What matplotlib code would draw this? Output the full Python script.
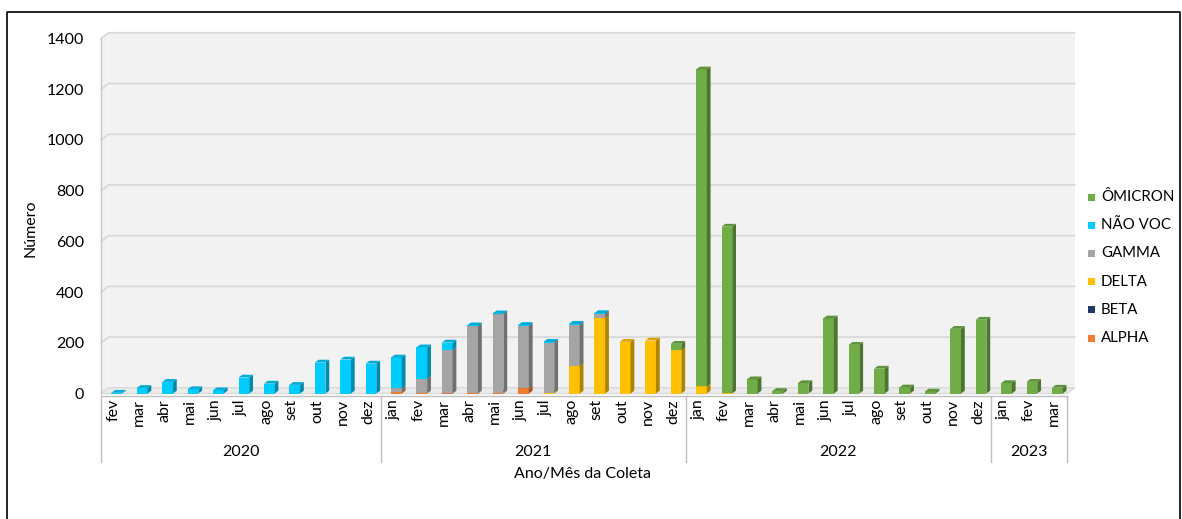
import matplotlib
matplotlib.use("Agg")
import matplotlib.pyplot as plt
from matplotlib.patches import Polygon, Rectangle
from matplotlib.lines import Line2D
import numpy as np

plt.rcParams['font.family'] = ['Lato', 'DejaVu Sans']

# categories: year groups and months
years = ['2020', '2021', '2022', '2023']
months_2020 = ['fev', 'mar', 'abr', 'mai', 'jun', 'jul', 'ago', 'set', 'out', 'nov', 'dez']
months_2021 = ['jan', 'fev', 'mar', 'abr', 'mai', 'jun', 'jul', 'ago', 'set', 'out', 'nov', 'dez']
months_2022 = ['jan', 'fev', 'mar', 'abr', 'mai', 'jun', 'jul', 'ago', 'set', 'out', 'nov', 'dez']
months_2023 = ['jan', 'fev', 'mar']
month_groups = [months_2020, months_2021, months_2022, months_2023]
months = months_2020 + months_2021 + months_2022 + months_2023

# series values, stacked bottom -> top
alpha = [0]*11 + [6, 3, 1, 1, 3, 20, 0, 0, 0, 0, 0, 0] + [0]*12 + [0]*3
beta = [0]*38
delta = [0]*11 + [0, 0, 0, 0, 0, 0, 3, 108, 298, 204, 209, 171] + [28, 1] + [0]*10 + [0]*3
gamma = [0]*11 + [15, 56, 172, 264, 309, 246, 198, 163, 16, 0, 0, 0] + [0]*12 + [0]*3
nao_voc = [3, 22, 46, 17, 13, 63, 39, 34, 122, 134, 118] + [121, 123, 28, 4, 4, 4, 3, 4, 3, 0, 0, 0] + [0]*12 + [0]*3
omicron = [0]*11 + [0]*11 + [25] + [1250, 657, 56, 10, 41, 296, 192, 98, 24, 8, 255, 291] + [41, 46, 23]

series = [('ALPHA', alpha, '#ED7D31'), ('BETA', beta, '#203864'), ('DELTA', delta, '#FFC000'),
          ('GAMMA', gamma, '#A5A5A5'), ('NÃO VOC', nao_voc, '#00CCFF'), ('ÔMICRON', omicron, '#70AD47')]

W, H = 1182, 519
fs = 11.5
fig = plt.figure(figsize=(W/100, H/100), dpi=100)
ax = fig.add_axes([101/W, (H-393.5)/H, 966/W, 355/H])
ax.set_xlim(-0.5, 37.5)
ax.set_ylim(0, 1400)
for s in ax.spines.values():
    s.set_visible(False)

ppx = 966/38.0      # px per category
ppy = 355/1400.0    # px per unit
dxw, dyw = 7.6/ppx, 5.7/ppy   # wall depth
dxb, dyb = 3.8/ppx, 2.8/ppy   # bar depth
n = len(months)

# back wall, floor, side wall
ax.add_patch(Polygon([(-0.5+dxw, dyw), (37.5+dxw, dyw), (37.5+dxw, 1400+dyw), (-0.5+dxw, 1400+dyw)],
                     closed=True, fc='#f2f2f2', ec='none', clip_on=False, zorder=0))
ax.add_patch(Polygon([(-0.5, 0), (-0.5+dxw, dyw), (-0.5+dxw, 1400+dyw), (-0.5, 1400)],
                     closed=True, fc='#f2f2f2', ec='none', clip_on=False, zorder=0))
ax.add_patch(Polygon([(-0.5, 0), (37.5, 0), (37.5+dxw, dyw), (-0.5+dxw, dyw)],
                     closed=True, fc='#ebebeb', ec='#d9d9d9', lw=1, clip_on=False, zorder=0.5))
for v in range(200, 1401, 200):
    ax.plot([-0.5, -0.5+dxw, 37.5+dxw], [v, v+dyw, v+dyw], color='#d9d9d9', lw=1.3,
            clip_on=False, zorder=0.6)
ax.plot([-0.5, -0.5], [0, 1400], color='#c8c8c8', lw=1, clip_on=False, zorder=0.7)

# 3D stacked bars
x = np.arange(n)
off = 0.12
bw = 0.42
bottom = np.zeros(n)
for name, vals, col in series:
    vals = np.array(vals, dtype=float)
    c = np.array(matplotlib.colors.to_rgb(col))
    side = c*0.68
    top = c*0.85
    ax.bar(x+off, vals, bw, bottom=bottom, color=col, edgecolor='none', zorder=2)
    for i in range(n):
        if vals[i] <= 0:
            continue
        x1 = x[i]+off+bw/2
        x0 = x[i]+off-bw/2
        y0, y1 = bottom[i], bottom[i]+vals[i]
        ax.add_patch(Polygon([(x1, y0), (x1+dxb, y0+dyb), (x1+dxb, y1+dyb), (x1, y1)],
                             closed=True, fc=side, ec='none', zorder=2))
        ax.add_patch(Polygon([(x0, y1), (x1, y1), (x1+dxb, y1+dyb), (x0+dxb, y1+dyb)],
                             closed=True, fc=top, ec='none', zorder=2, clip_on=False))
    bottom += vals

# y axis labels
ax.set_yticks(range(0, 1401, 200))
ax.tick_params(axis='y', length=0, pad=12, labelsize=fs, labelcolor='#000000')

# category axis (months + years)
ax.set_xticks(x)
ax.set_xticklabels(months, rotation=90)
ax.tick_params(axis='x', length=0, pad=4, labelsize=fs)
tr = ax.get_xaxis_transform()
ax.plot([-0.5, 37.5], [-2/355, -2/355], color='#bfbfbf', lw=1, transform=tr, clip_on=False)
seps = [-0.5]
pos = -0.5
for g in month_groups:
    pos += len(g)
    seps.append(pos)
for s in seps:
    ax.plot([s, s], [-2/355, -68.5/355], color='#bfbfbf', lw=1, transform=tr, clip_on=False)
for k, yr in enumerate(years):
    cx = (seps[k]+seps[k+1])/2
    ax.text(cx, -58.5/355, yr, transform=tr, ha='center', va='center', fontsize=fs)

fig.text(583/W, 1-474/H, 'Ano/Mês da Coleta', ha='center', va='center', fontsize=fs)
fig.text(31/W, 1-228/H, 'Número', ha='center', va='center', rotation=90, fontsize=fs)

# legend
leg_order = ['ÔMICRON', 'NÃO VOC', 'GAMMA', 'DELTA', 'BETA', 'ALPHA']
leg_cols = {nm: col for nm, _, col in series}
for i, nm in enumerate(leg_order):
    yy = 197 + i*28.2
    fig.patches.append(Rectangle((1088/W, 1-(yy+3.5)/H), 7/W, 7/H, transform=fig.transFigure,
                                 fc=leg_cols[nm], ec='none'))
    fig.text(1101/W, 1-yy/H, nm, ha='left', va='center', fontsize=10.8)

# outer border
fig.lines.append(Line2D([7/W, 7/W, 1180/W, 1180/W], [0, 1-12/H, 1-12/H, 0],
                        transform=fig.transFigure, color='black', lw=1.2))

fig.savefig('out.png', dpi=100)
